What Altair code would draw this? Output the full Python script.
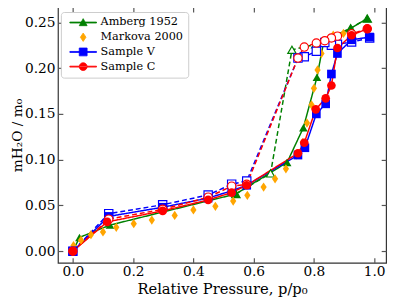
import altair as alt
import pandas as pd

series_names = ["Amberg 1952", "Markova 2000", "Sample V", "Sample C"]
series_colors = ["#008000", "#FFA500", "#0000FF", "#FF0000"]
thin_diamond = "M0,-1.07L0.72,0L0,1.07L-0.72,0Z"
series_shapes = ["triangle-up", thin_diamond, "square", "circle"]

# legend symbols: marker with a line through it (like matplotlib)
leg_line = "M-3.4,-0.12H3.4V0.12H-3.4Z"
legend_shapes = [
    leg_line + "M0,-1L1,0.8L-1,0.8Z",
    thin_diamond,
    leg_line + "M-1,-1H1V1H-1Z",
    leg_line + "M-1,0A1,1 0 1,0 1,0A1,1 0 1,0 -1,0Z",
]

amb_ads_x = [0.0, 0.022, 0.123, 0.541, 0.711, 0.765, 0.810, 0.833, 0.922, 0.977]
amb_ads_y = [0.0, 0.015, 0.0285, 0.0625, 0.097, 0.135, 0.190, 0.230, 0.2436, 0.2543]
amb_des_x = [0.977, 0.922, 0.806, 0.727, 0.656, 0.541]
amb_des_y = [0.2543, 0.2436, 0.226, 0.220, 0.085, 0.0625]

mar_x = [0.002, 0.027, 0.06, 0.10, 0.144, 0.202, 0.262, 0.338, 0.40, 0.473, 0.532, 0.579,
         0.633, 0.671, 0.707, 0.741, 0.763, 0.777, 0.792, 0.80, 0.812, 0.825, 0.837, 0.864, 0.898]
mar_y = [0.006, 0.012, 0.018, 0.021, 0.026, 0.030, 0.034, 0.039, 0.045, 0.049, 0.0547, 0.061,
         0.070, 0.079, 0.090, 0.105, 0.119, 0.140, 0.160, 0.178, 0.198, 0.216, 0.228, 0.236, 0.238]

v_ads_x = [0.0, 0.119, 0.298, 0.449, 0.527, 0.577, 0.747, 0.77, 0.808, 0.839, 0.858, 0.878, 0.925, 0.985]
v_ads_y = [0.0, 0.038, 0.048, 0.058, 0.066, 0.072, 0.105, 0.113, 0.150, 0.161, 0.1936, 0.216, 0.231, 0.234]
v_des_x = [0.985, 0.925, 0.878, 0.858, 0.836, 0.808, 0.768, 0.747, 0.577, 0.527, 0.449, 0.298, 0.119, 0.0]
v_des_y = [0.233, 0.2286, 0.226, 0.225, 0.228, 0.2185, 0.2125, 0.211, 0.0767, 0.0732, 0.0614, 0.0507, 0.041, 0.0]

c_ads_x = [0.0, 0.114, 0.298, 0.449, 0.527, 0.577, 0.747, 0.768, 0.806, 0.839, 0.858, 0.878, 0.925, 0.977]
c_ads_y = [0.0, 0.032, 0.044, 0.056, 0.064, 0.072, 0.107, 0.1185, 0.155, 0.167, 0.181, 0.222, 0.236, 0.243]
c_des_x = [0.977, 0.925, 0.878, 0.858, 0.836, 0.808, 0.768, 0.747, 0.577, 0.527, 0.449, 0.298, 0.119, 0.0]
c_des_y = [0.243, 0.2375, 0.235, 0.233, 0.230, 0.2275, 0.223, 0.211, 0.073, 0.071, 0.059, 0.0457, 0.035, 0.0]

rows = []
def add(name, branch, xs, ys):
    for i, (a, b) in enumerate(zip(xs, ys)):
        rows.append({"series": name, "branch": branch, "x": a, "y": b, "order": i})

add("Amberg 1952", "ads", amb_ads_x, amb_ads_y)
add("Amberg 1952", "des", amb_des_x, amb_des_y)
add("Markova 2000", "ads", mar_x, mar_y)
add("Sample V", "ads", v_ads_x, v_ads_y)
add("Sample V", "des", v_des_x, v_des_y)
add("Sample C", "ads", c_ads_x, c_ads_y)
add("Sample C", "des", c_des_x, c_des_y)
df = pd.DataFrame(rows)

FONT = "DejaVu Serif"
xscale = alt.Scale(domain=[-0.0495, 1.0395], nice=False, zero=False)
yscale = alt.Scale(domain=[-0.0127, 0.2667], nice=False, zero=False)
xvals = [0.0, 0.2, 0.4, 0.6, 0.8, 1.0]
yvals = [0.0, 0.05, 0.10, 0.15, 0.20, 0.25]

tick_common = dict(tickSize=5, offset=-5, domain=False, grid=False, tickColor="#555",
                   tickWidth=1.2, labelFont=FONT, labelFontSize=14, labelColor="black",
                   titleFont=FONT, titleFontWeight="normal", titleColor="black")

x_bottom = alt.X("x:Q", scale=xscale, axis=alt.Axis(values=xvals, format=".1f", labelPadding=2,
                 orient="bottom", title="Relative Pressure, p/p\u2080", titlePadding=3,
                 titleFontSize=15, **tick_common))
y_left = alt.Y("y:Q", scale=yscale, axis=alt.Axis(values=yvals, format=".2f", labelPadding=3,
               orient="left", title="mH\u2082O / m\u2080", titlePadding=0, titleFontSize=14,
               **tick_common))
x_top = alt.X("x:Q", scale=xscale, axis=alt.Axis(values=xvals, orient="top", labels=False, title=None,
              tickSize=5, offset=-5, domain=False, grid=False, tickColor="#555", tickWidth=1.2))
y_right = alt.Y("y:Q", scale=yscale, axis=alt.Axis(values=yvals, orient="right", labels=False, title=None,
                tickSize=5, offset=-5, domain=False, grid=False, tickColor="#555", tickWidth=1.2))
x_none = alt.X("x:Q", scale=xscale, axis=None)
y_none = alt.Y("y:Q", scale=yscale, axis=None)

legend = alt.Legend(title=None, orient="none", legendX=3, legendY=5,
                    labelFont=FONT, labelFontSize=11.5, symbolSize=64,
                    strokeColor="#cccccc", fillColor="white", padding=5,
                    cornerRadius=3, rowPadding=2, symbolOffset=12, labelOffset=12,
                    symbolStrokeWidth=0.8)
color = alt.Color("series:N", scale=alt.Scale(domain=series_names, range=series_colors), legend=legend)
leg_shape = alt.Shape("series:N", scale=alt.Scale(domain=series_names, range=legend_shapes), legend=legend)

base = alt.Chart(df)

# carries the bottom/left axes and the legend; draws nothing itself
legend_layer = base.transform_filter("false").mark_point(filled=True, opacity=1, size=64).encode(
    x=x_bottom, y=y_left, color=color, shape=leg_shape)

# carries the top/right tick-only axes
frame_layer = base.transform_filter("false").mark_point(opacity=0).encode(
    x=x_top, y=y_right, color=color)

lines = base.transform_filter(alt.datum.series != "Markova 2000").mark_line(strokeWidth=1.5).encode(
    x=x_none, y=y_none, color=color,
    strokeDash=alt.StrokeDash("branch:N", scale=alt.Scale(domain=["ads", "des"], range=[[1, 0], [5, 3]]), legend=None),
    detail="branch:N", order="order:Q")

point_layers = []
for name, shp in zip(series_names, series_shapes):
    sub = base.transform_filter(alt.datum.series == name)
    point_layers.append(
        sub.transform_filter(alt.datum.branch == "des").mark_point(
            shape=shp, filled=False, fill="white", fillOpacity=1, opacity=1, strokeWidth=1.2, size=72
        ).encode(x=x_none, y=y_none, color=color))
    point_layers.append(
        sub.transform_filter(alt.datum.branch == "ads").mark_point(
            shape=shp, filled=True, opacity=1, size=78
        ).encode(x=x_none, y=y_none, color=color))

chart = alt.layer(legend_layer, frame_layer, lines, *point_layers).resolve_axis(
    x="independent", y="independent").properties(
    width=335, height=261, autosize=alt.AutoSizeParams(type="none"),
    padding={"left": 51, "top": -4, "right": 5, "bottom": 40}
).configure_view(stroke="#333", strokeWidth=1.2).configure_axis(titleFontWeight="normal")

chart.save("out.html", embed_options={"renderer": "svg", "actions": False})
